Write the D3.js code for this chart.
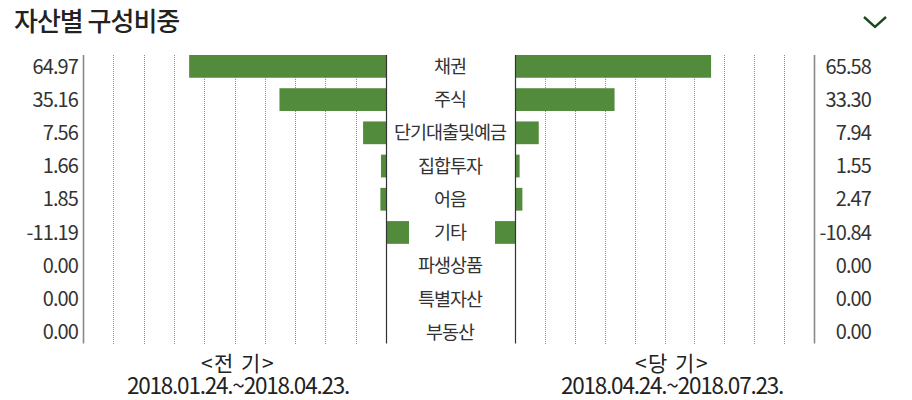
<!DOCTYPE html>
<html>
<head>
<meta charset="utf-8">
<script src="https://cdn.jsdelivr.net/npm/d3@7"></script>
<style>
  html, body { margin: 0; padding: 0; background: #fff; }
  svg { display: block; font-family: "Noto Sans CJK KR", "Noto Sans", sans-serif; }
</style>
</head>
<body>
<svg id="chart" width="912" height="400"></svg>
<script>
const categories = ['채권', '주식', '단기대출및예금', '집합투자', '어음', '기타', '파생상품', '특별자산', '부동산'];
const prevValues = [64.97, 35.16, 7.56, 1.66, 1.85, -11.19, 0.00, 0.00, 0.00];
const currValues = [65.58, 33.30, 7.94, 1.55, 2.47, -10.84, 0.00, 0.00, 0.00];
const periodTitles = ['<전 기>', '<당 기>'];
const periodDates = ['2018.01.24.~2018.04.23.', '2018.04.24.~2018.07.23.'];
const chartTitle = '자산별 구성비중';

const svg = d3.select('#chart');
const green = '#538b3c';
const textColor = '#333';
const fmt = d3.formatLocale({ decimal: '.', thousands: ',', grouping: [3], currency: ['', ''], minus: '-' }).format('.2f');

const yTop = 55, yBot = 343.5;
const y = d3.scaleBand().domain(categories).range([yTop, yBot]).paddingInner(0.315).paddingOuter(0);

const xL = d3.scaleLinear().domain([0, 100]).range([386, 83]);
const xR = d3.scaleLinear().domain([0, 100]).range([515, 814]);

// title
svg.append('text').attr('x', 14).attr('y', 31)
  .attr('font-size', 26).attr('font-weight', 500).attr('fill', '#222')
  .attr('letter-spacing', -1)
  .text(chartTitle);

// chevron
svg.append('path').attr('d', 'M864,17 L875,27 L886,17')
  .attr('fill', 'none').attr('stroke', '#1d4a1d').attr('stroke-width', 2.4);

function panel(x, values, labelX) {
  const ticks = x.ticks(10);
  const g = svg.append('g');
  g.selectAll('line.grid').data(ticks.filter(t => t > 0 && t < 100)).join('line')
    .attr('class', 'grid')
    .attr('x1', d => Math.round(x(d)) + 0.5).attr('x2', d => Math.round(x(d)) + 0.5)
    .attr('y1', yTop).attr('y2', yBot + 1.5)
    .attr('stroke', '#8c8c8c').attr('stroke-width', 1).attr('stroke-dasharray', '1,1');
  g.append('line')
    .attr('x1', Math.round(x(100)) + 0.5).attr('x2', Math.round(x(100)) + 0.5)
    .attr('y1', yTop).attr('y2', yBot)
    .attr('stroke', '#8a8a8a').attr('stroke-width', 1.6);
  g.selectAll('rect.bar').data(values).join('rect')
    .attr('class', 'bar')
    .attr('x', d => Math.min(x(0), x(d)))
    .attr('width', d => Math.abs(x(d) - x(0)))
    .attr('y', (d, i) => y(categories[i]))
    .attr('height', y.bandwidth())
    .attr('fill', green);
  g.selectAll('text.val').data(values).join('text')
    .attr('class', 'val')
    .attr('x', labelX).attr('y', (d, i) => y(categories[i]) + y.bandwidth() / 2)
    .attr('dy', '0.36em').attr('text-anchor', 'end')
    .attr('font-size', 20).attr('letter-spacing', -0.9).attr('fill', textColor)
    .text(d => fmt(d));
  return g;
}

panel(xL, prevValues, 78);
panel(xR, currValues, 871);

// central label column background
svg.append('rect').attr('x', 409).attr('y', yTop).attr('width', 86).attr('height', yBot - yTop)
  .attr('fill', '#fff');

// zero lines
[xL(0), xR(0)].forEach(px => {
  svg.append('line')
    .attr('x1', Math.round(px) + 0.5).attr('x2', Math.round(px) + 0.5)
    .attr('y1', yTop).attr('y2', yBot)
    .attr('stroke', '#333').attr('stroke-width', 1.2);
});

// category labels
svg.selectAll('text.cat').data(categories).join('text')
  .attr('class', 'cat')
  .attr('x', 450).attr('y', d => y(d) + y.bandwidth() / 2)
  .attr('dy', '0.36em').attr('text-anchor', 'middle')
  .attr('font-size', 18.5).attr('letter-spacing', -1).attr('fill', textColor)
  .text(d => d);

// period captions (one text each, two lines)
const capX = [238, 672];
periodTitles.forEach((t, i) => {
  const tx = svg.append('text').attr('text-anchor', 'middle').attr('fill', '#222');
  tx.append('tspan').attr('x', capX[i]).attr('y', 370.5)
    .attr('font-size', 21).attr('letter-spacing', 1.5).text(t);
  tx.append('tspan').attr('x', capX[i]).attr('y', 393.5)
    .attr('font-size', 22.5).attr('letter-spacing', -1.2).text(periodDates[i]);
});
</script>
</body>
</html>
